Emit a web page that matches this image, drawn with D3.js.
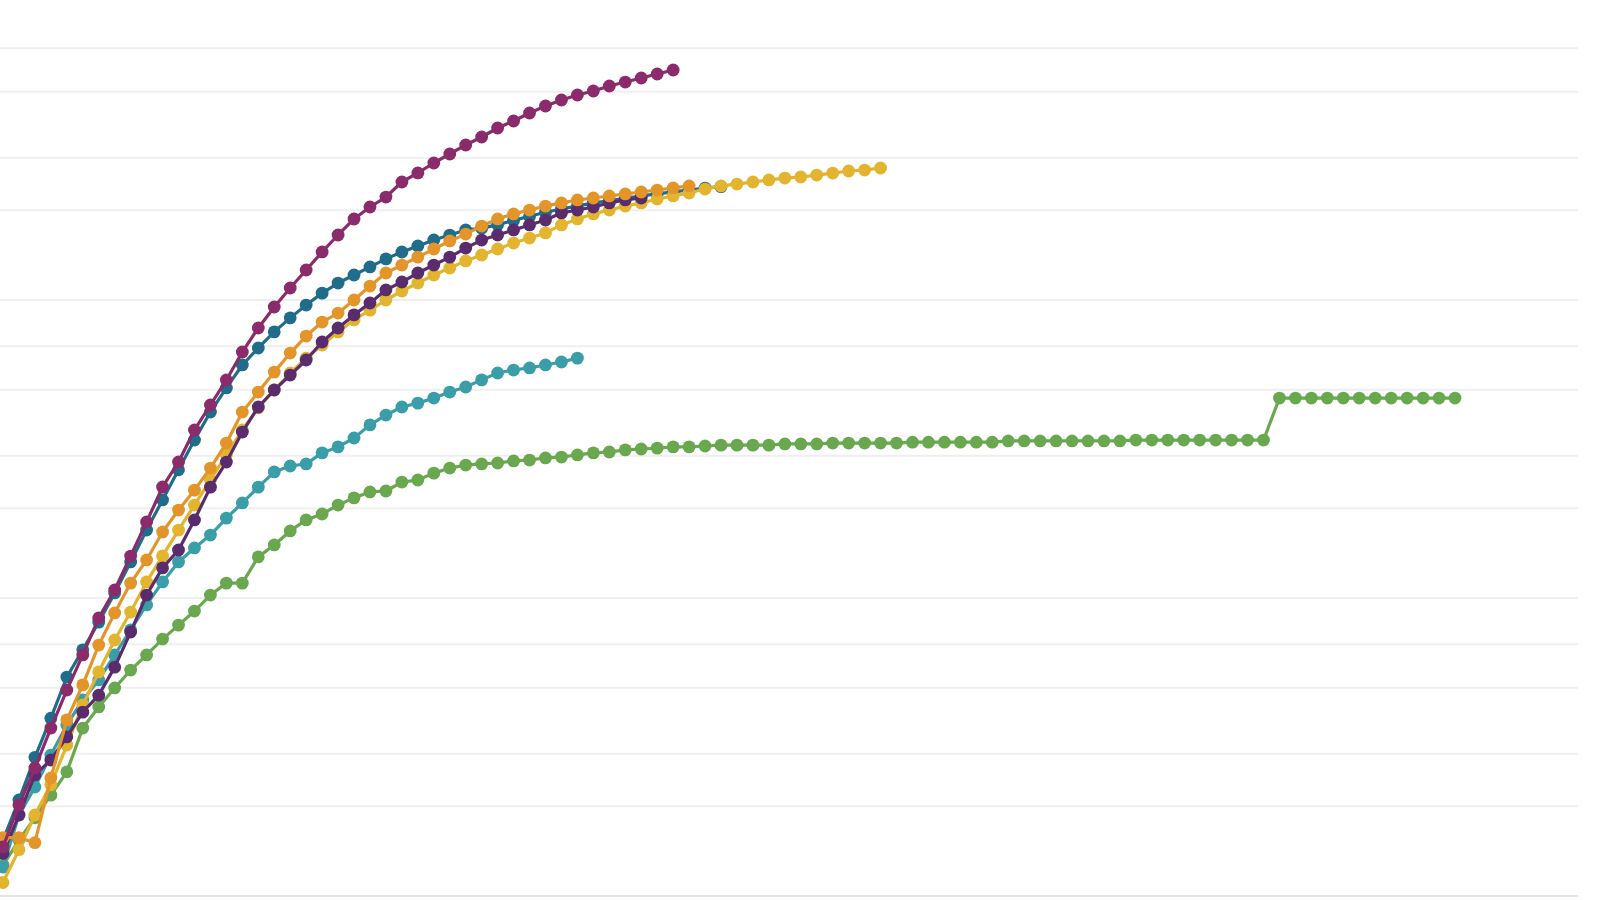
<!doctype html>
<html>
<head>
<meta charset="UTF-8">
<title>Deaths trajectories</title>
<script src="https://d3js.org/d3.v7.min.js"></script>
<style>
  body { margin: 0; background: #fff; }
  svg { display: block; }
</style>
</head>
<body>
<svg id="chart" width="1600" height="900"></svg>
<script>
// days since start, cumulative values per series
var gridTicks = [100, 200, 300, 500, 700, 1000, 2000, 3000, 5000, 7000, 10000, 20000, 30000, 50000, 70000];

var chinaVals = [127, 154, 183, 218, 261, 366, 431, 499, 573, 644, 728, 811, 904, 1023, 1122, 1122,
  1374, 1507, 1679, 1828, 1914, 2051, 2168, 2270, 2286, 2449, 2489, 2624, 2729, 2793, 2818, 2838,
  2884, 2904, 2951, 2972, 3020, 3069, 3090, 3141, 3162, 3184, 3214, 3214, 3236, 3258, 3258, 3258,
  3258, 3289, 3289, 3289, 3311, 3311, 3311, 3311, 3311, 3334, 3334, 3334, 3334, 3334, 3334, 3365,
  3365, 3365, 3365, 3365, 3365, 3365, 3365, 3388, 3388, 3388, 3388, 3388, 3388, 3388, 3388, 3388,
  4688, 4688, 4688, 4688, 4688, 4688, 4688, 4688, 4688, 4688, 4688, 4688];

var germanyVals = [125, 187, 232, 297, 375, 455, 531, 644, 782, 948, 1132, 1321, 1472, 1626, 1854,
  2084, 2355, 2649, 2773, 2818, 3069, 3214, 3443, 3810, 4111, 4375, 4508, 4688, 4909, 5105, 5395,
  5689, 5821, 5916, 6053, 6194, 6383];

var spainVals = [154, 210, 292, 395, 543, 670, 830, 1040, 1321, 1690, 2133, 2692, 3388, 4207, 5070,
  6053, 6902, 7816, 8710, 9616, 10545, 11400, 12130, 12910, 13740, 14490, 15180, 15900, 16520, 17180,
  17400, 17900, 18500, 19100, 19700, 20200, 20700, 21150, 21550, 21950, 22350, 22700, 23050, 23400,
  23750, 24000];

var italyVals = [111, 143, 187, 236, 321, 438, 565, 723, 897, 1132, 1384, 1690, 2051, 2489, 3020,
  3664, 4345, 4989, 5689, 6383, 7063, 7816, 8570, 9247, 10000, 10720, 11400, 12130, 12800, 13520,
  14160, 14830, 15530, 16140, 16790, 17860, 18710, 19450, 20040, 20660, 21170, 21830, 22340, 22860,
  23570, 24140, 24490, 24890, 25290, 25650, 25870, 26260, 26670, 27100, 27290, 27730];

var ukVals = [139, 187, 255, 286, 342, 414, 472, 586, 769, 1023, 1262, 1449, 1828, 2355, 2858, 3605,
  4375, 4989, 5598, 6289, 7228, 8054, 8913, 9772, 10810, 11490, 12320, 13100, 13930, 14940, 15890,
  16520, 17180, 17860, 18550, 19590, 20040, 20510, 21170, 21660, 21990];

var franceVals = [157, 157, 151, 249, 390, 511, 695, 891, 1122, 1342, 1665, 1973, 2301, 2729, 3311,
  4207, 4909, 5728, 6637, 7568, 8435, 9040, 10000, 11140, 12320, 13100, 13930, 14830, 15780, 16640,
  17710, 18710, 19450, 20040, 20660, 21170, 21660, 21990, 22340, 22700, 23040, 23390, 23770, 24140];

var usVals = [146, 202, 269, 366, 491, 644, 857, 1064, 1383, 1799, 2358, 2860, 3663, 4443, 5389,
  6691, 8054, 9474, 10972, 12607, 14495, 16525, 18700, 20516, 22159, 24888, 26685, 28826, 30903,
  33128, 35237, 37774, 39874, 42418, 44771, 46903, 48750, 50270, 52245, 53880, 55590, 57334, 59130];

var seriesNames = ["China", "Germany", "Spain", "Italy", "UK", "France", "US"];
var seriesColors = ["#6aa84f", "#3a9ea8", "#1f6d8a", "#e3b42e", "#5a2c6e", "#e4952a", "#8b2b6b"];
var seriesVals = [chinaVals, germanyVals, spainVals, italyVals, ukVals, franceVals, usVals];

var svg = d3.select("#chart");

var x = d3.scaleLinear().domain([0, 91]).range([3, 1455]);
var y = d3.scaleLog().domain([100, 100000]).range([896, 2]);

// horizontal grid
svg.append("g")
  .selectAll("line")
  .data(gridTicks)
  .enter()
  .append("line")
  .attr("x1", 0)
  .attr("x2", 1578)
  .attr("y1", function(d){ return y(d); })
  .attr("y2", function(d){ return y(d); })
  .attr("stroke", function(d){ return d === 100 ? "#e4e4e4" : "#efefef"; })
  .attr("stroke-width", 2);

var line = d3.line()
  .x(function(d, i){ return x(i); })
  .y(function(d){ return y(d); });

for (var s = 0; s < seriesVals.length; s++) {
  var g = svg.append("g").attr("class", "series " + seriesNames[s]);

  g.append("path")
    .datum(seriesVals[s])
    .attr("d", line)
    .attr("fill", "none")
    .attr("stroke", seriesColors[s])
    .attr("stroke-width", 3.2)
    .attr("stroke-linejoin", "round");

  g.selectAll("circle")
    .data(seriesVals[s])
    .enter()
    .append("circle")
    .attr("cx", function(d, i){ return x(i); })
    .attr("cy", function(d){ return y(d); })
    .attr("r", 6.4)
    .attr("fill", seriesColors[s]);
}
</script>
</body>
</html>
